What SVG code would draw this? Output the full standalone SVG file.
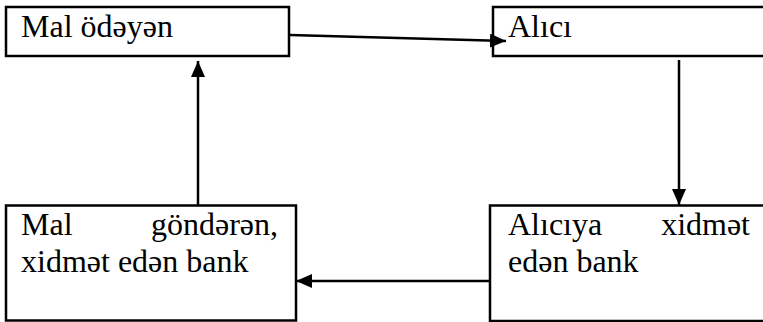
<svg xmlns="http://www.w3.org/2000/svg" width="763" height="322" viewBox="0 0 763 322">
<style>
.box{fill:#fff;stroke:#000;stroke-width:2.5}
.t{font-family:"Liberation Serif","DejaVu Serif","Times New Roman",serif;font-size:32px;fill:#000}
.c{fill:none;stroke:#000;stroke-width:2.5}
</style>
<defs>
<marker id="ah" markerUnits="userSpaceOnUse" markerWidth="17" markerHeight="14" refX="16" refY="7" orient="auto">
<path d="M0,0 L16,7 L0,14 Z" fill="#000"/>
</marker>
</defs>
<rect width="763" height="322" fill="#fff"/>
<g id="n1">
<rect class="box" x="6" y="7" width="283" height="49"/>
<text class="t" x="21" y="37">Mal ödəyən</text>
</g>
<g id="n2">
<rect class="box" x="493" y="7" width="280" height="49"/>
<text class="t" x="508" y="37">Alıcı</text>
</g>
<g id="n3">
<rect class="box" x="6" y="205.5" width="290" height="115"/>
<text class="t" x="21" y="235">Mal</text>
<text class="t" x="278" y="235" text-anchor="end">göndərən,</text>
<text class="t" x="21" y="272">xidmət edən bank</text>
</g>
<g id="n4">
<rect class="box" x="490" y="205.5" width="283" height="115.5"/>
<text class="t" x="508" y="235">Alıcıya</text>
<text class="t" x="750" y="235" text-anchor="end">xidmət</text>
<text class="t" x="508" y="272">edən bank</text>
</g>
<g id="connectors">
<line class="c" x1="290" y1="35" x2="506" y2="41" marker-end="url(#ah)"/>
<line class="c" x1="679" y1="60" x2="679" y2="205" marker-end="url(#ah)"/>
<line class="c" x1="198" y1="205" x2="198" y2="61" marker-end="url(#ah)"/>
<line class="c" x1="490" y1="281" x2="296" y2="281" marker-end="url(#ah)"/>
</g>
</svg>
